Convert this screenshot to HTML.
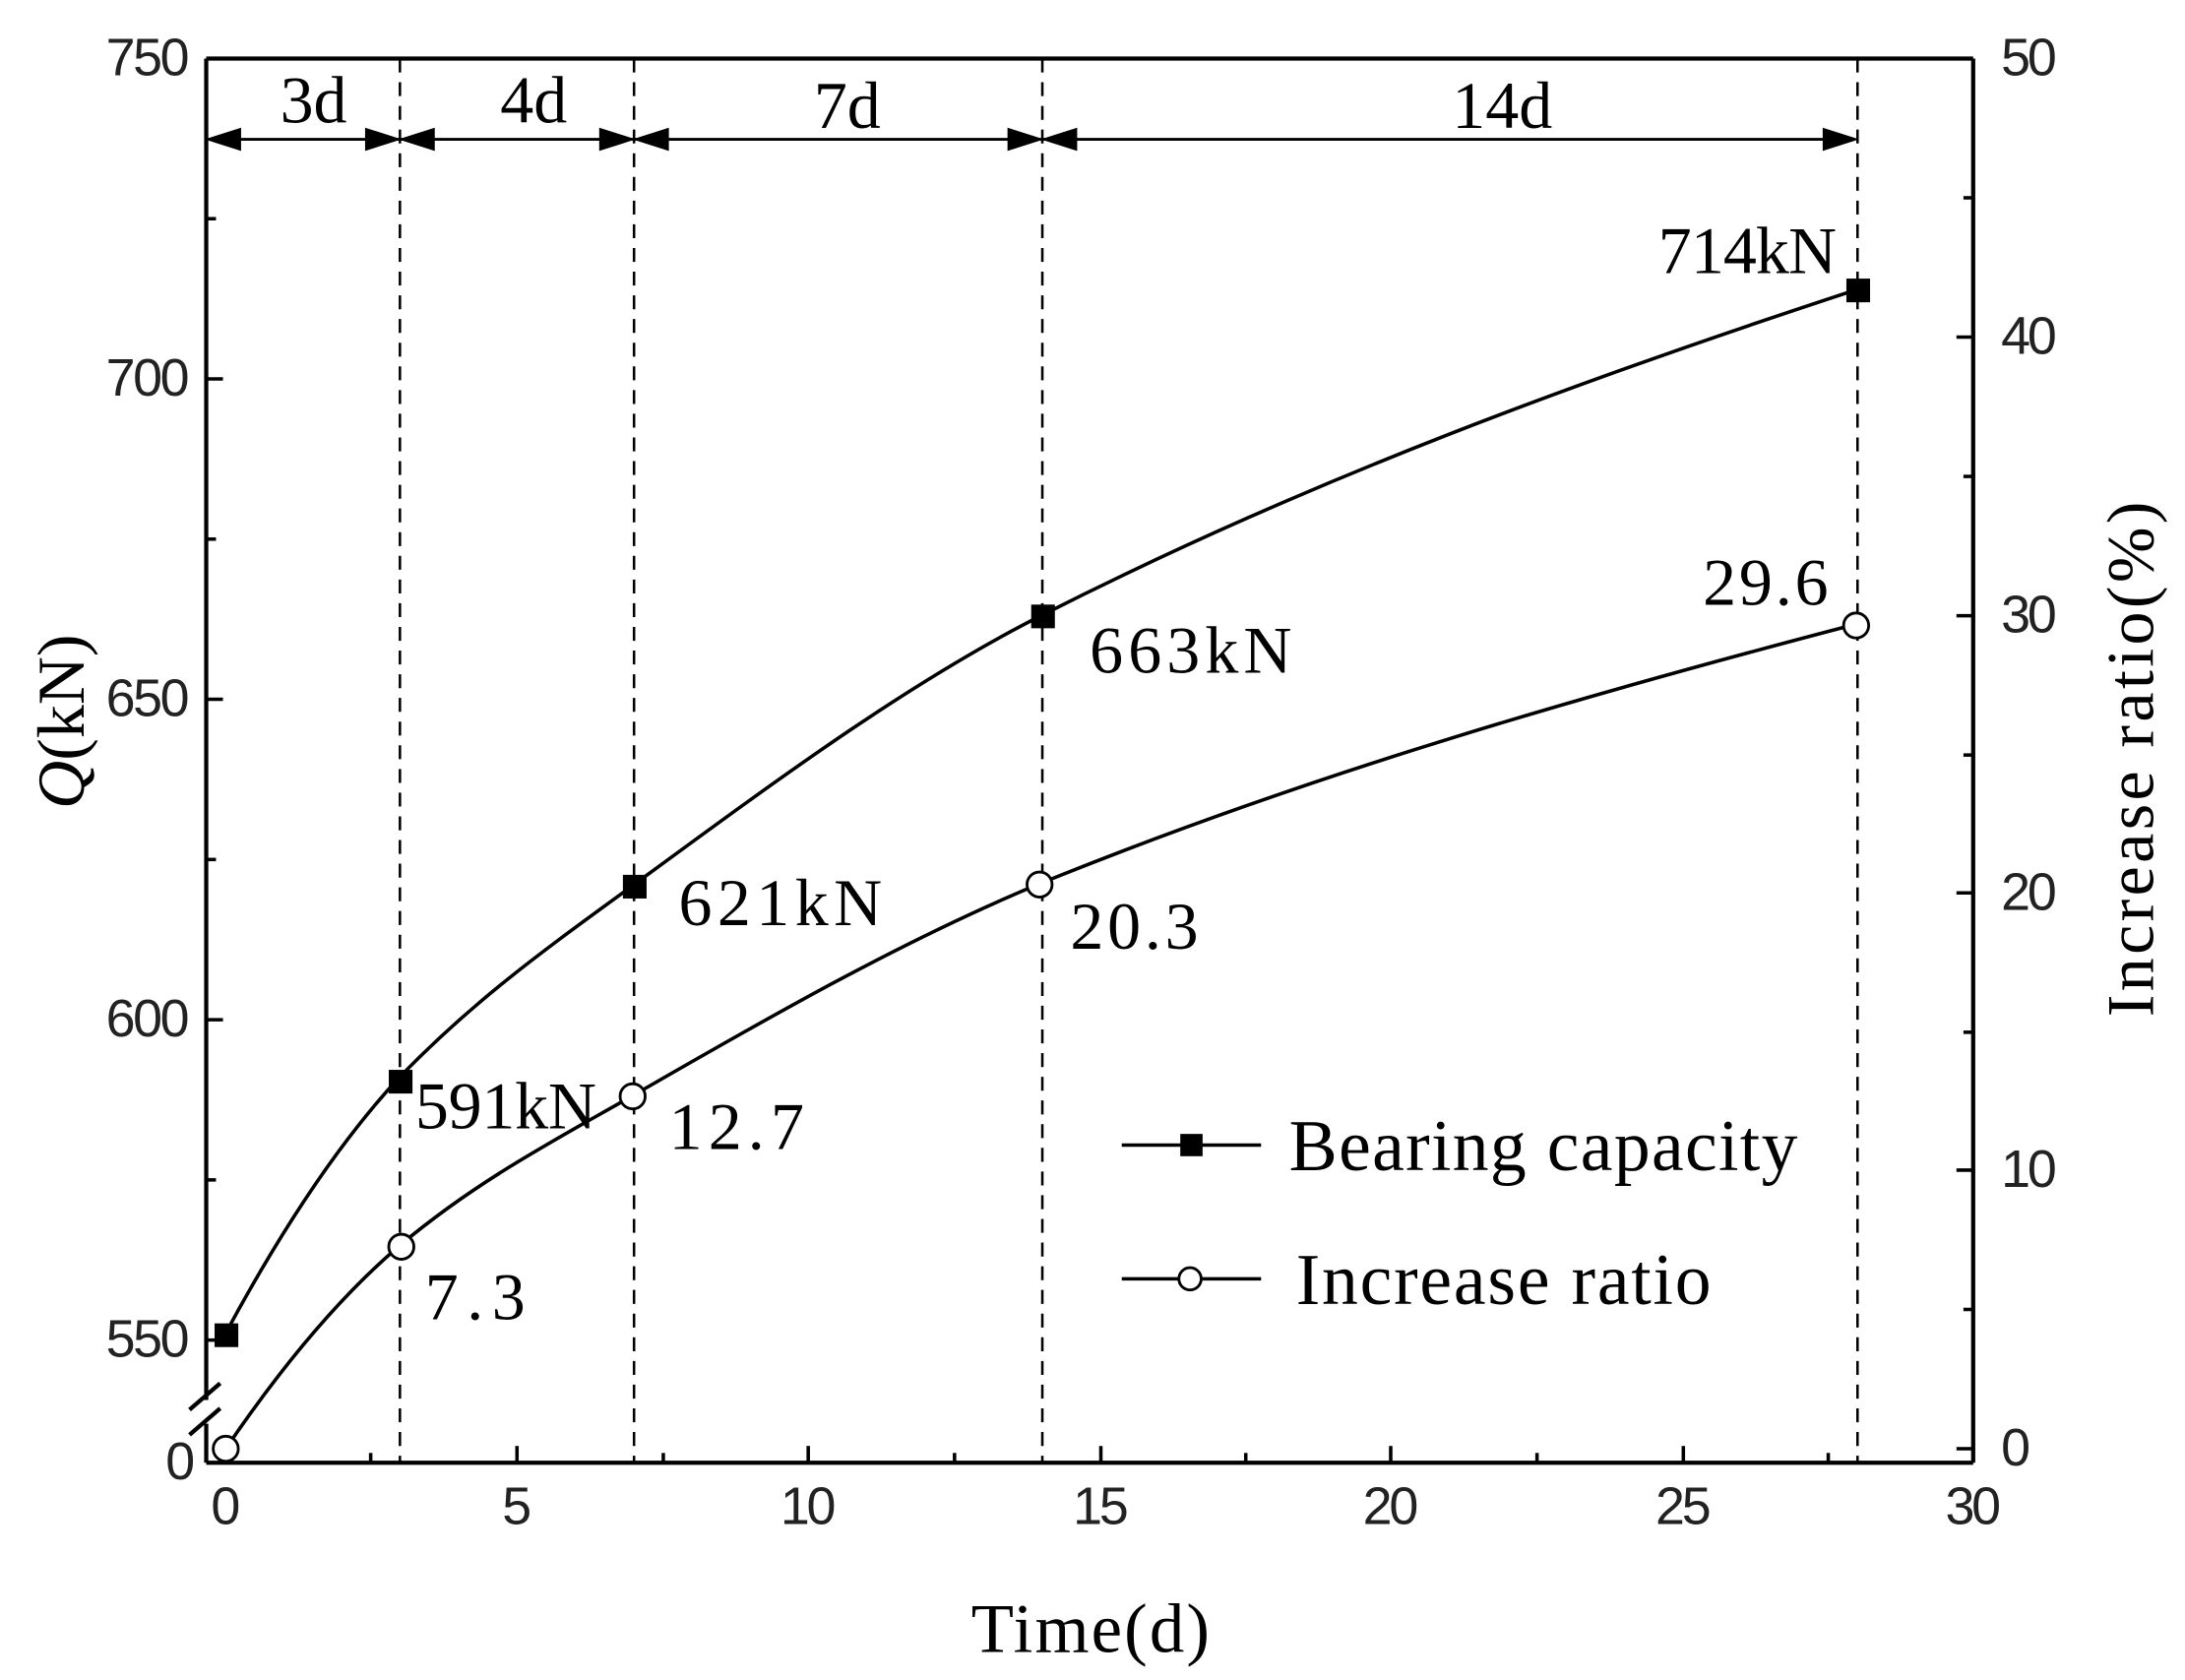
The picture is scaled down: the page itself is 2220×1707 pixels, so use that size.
<!DOCTYPE html>
<html><head><meta charset="utf-8"><style>html,body{margin:0;padding:0;background:#fff}svg{display:block}</style></head>
<body>
<svg width="2220" height="1707" viewBox="0 0 1568 1206" preserveAspectRatio="none" xmlns="http://www.w3.org/2000/svg">
<rect width="1568" height="1206" fill="#fff"/>
<g stroke="#000" stroke-width="3" fill="none">
<line x1="148" y1="42" x2="1416" y2="42"/>
<line x1="148" y1="1050" x2="1416" y2="1050"/>
<line x1="1416" y1="42" x2="1416" y2="1050"/>
<line x1="148" y1="42" x2="148" y2="1005"/>
<line x1="148" y1="1022" x2="148" y2="1050"/>
<line x1="136" y1="1012" x2="158" y2="993"/>
<line x1="136" y1="1030" x2="158" y2="1011"/>
</g>
<g stroke="#000" stroke-width="2.5">
<line x1="162" y1="1050" x2="162" y2="1038"/><line x1="371" y1="1050" x2="371" y2="1038"/><line x1="580" y1="1050" x2="580" y2="1038"/><line x1="790" y1="1050" x2="790" y2="1038"/><line x1="998" y1="1050" x2="998" y2="1038"/><line x1="1208" y1="1050" x2="1208" y2="1038"/>
<line x1="266" y1="1050" x2="266" y2="1043"/><line x1="476" y1="1050" x2="476" y2="1043"/><line x1="685" y1="1050" x2="685" y2="1043"/><line x1="894" y1="1050" x2="894" y2="1043"/><line x1="1103" y1="1050" x2="1103" y2="1043"/><line x1="1312" y1="1050" x2="1312" y2="1043"/>
<line x1="148" y1="272" x2="160" y2="272"/><line x1="148" y1="502" x2="160" y2="502"/><line x1="148" y1="732" x2="160" y2="732"/><line x1="148" y1="962" x2="160" y2="962"/>
<line x1="148" y1="157" x2="155" y2="157"/><line x1="148" y1="387" x2="155" y2="387"/><line x1="148" y1="617" x2="155" y2="617"/><line x1="148" y1="847" x2="155" y2="847"/>
<line x1="1416" y1="242" x2="1404" y2="242"/><line x1="1416" y1="442" x2="1404" y2="442"/><line x1="1416" y1="641" x2="1404" y2="641"/><line x1="1416" y1="840" x2="1404" y2="840"/><line x1="1416" y1="1040" x2="1404" y2="1040"/>
<line x1="1416" y1="142" x2="1409" y2="142"/><line x1="1416" y1="342" x2="1409" y2="342"/><line x1="1416" y1="542" x2="1409" y2="542"/><line x1="1416" y1="741" x2="1409" y2="741"/><line x1="1416" y1="940" x2="1409" y2="940"/>
</g>
<g stroke="#000" stroke-width="1.8" stroke-dasharray="10,7">
<line x1="287" y1="42" x2="287" y2="1050"/><line x1="455" y1="42" x2="455" y2="1050"/><line x1="748" y1="42" x2="748" y2="1050"/><line x1="1333" y1="42" x2="1333" y2="1050"/>
</g>
<g stroke="#000" stroke-width="2" fill="#000">
<line x1="150" y1="100" x2="1330" y2="100"/>
<path d="M150 100 l22 -7 v14z M285 100 l-22 -7 v14z M289 100 l22 -7 v14z M453 100 l-22 -7 v14z M457 100 l22 -7 v14z M746 100 l-22 -7 v14z M750 100 l22 -7 v14z M1331 100 l-22 -7 v14z"/>
</g>
<g font-family="Liberation Serif, serif" font-size="48" text-anchor="middle" fill="#000">
<text x="225" y="88">3d</text><text x="383" y="88">4d</text><text x="608" y="92">7d</text><text x="1078" y="92">14d</text>
</g>
<g stroke="#000" stroke-width="2.5" fill="none">
<path d="M162 957 C204 879 246 817 287 773 C343 715 399 676 455 635 C552 564 650 491 747 442 C942 343 1137 272 1332 208"/>
<path d="M162 1040 C204 978 246 929 287 894 C343 847 399 818 455 786 C552 730 650 674 747 634 C942 555 1137 499 1332 448"/>
</g>
<g fill="#000">
<rect x="154" y="950" width="17" height="17"/><rect x="279" y="768" width="17" height="17"/><rect x="447" y="628" width="17" height="17"/><rect x="740" y="434" width="17" height="17"/><rect x="1325" y="200" width="17" height="17"/>
</g>
<g fill="#fff" stroke="#000" stroke-width="2">
<circle cx="162" cy="1040" r="9"/><circle cx="288" cy="895" r="9"/><circle cx="454" cy="787" r="9"/><circle cx="746" cy="635" r="9"/><circle cx="1332" cy="449" r="9"/>
</g>
<g font-family="Liberation Serif, serif" font-size="48" fill="#000">
<text x="1190" y="196" textLength="128">714kN</text><text x="782" y="483" textLength="145">663kN</text><text x="487" y="664" textLength="146">621kN</text><text x="298" y="810" textLength="130">591kN</text>
<text x="1222" y="434" textLength="90">29.6</text><text x="768" y="681" textLength="92">20.3</text><text x="480" y="825" textLength="97">12.7</text><text x="305" y="947" textLength="72">7.3</text>
</g>
<g font-family="Liberation Sans, sans-serif" font-size="38" fill="#222">
<g text-anchor="middle">
<text x="162" y="1094">0</text><text x="371" y="1094">5</text><text x="580" y="1094" textLength="40">10</text><text x="790" y="1094" textLength="40">15</text><text x="998" y="1094" textLength="40">20</text><text x="1208" y="1094" textLength="40">25</text><text x="1416" y="1094" textLength="40">30</text>
</g>
<g text-anchor="end">
<text x="136" y="54" textLength="60">750</text><text x="136" y="284" textLength="60">700</text><text x="136" y="514" textLength="60">650</text><text x="136" y="744" textLength="60">600</text><text x="136" y="974" textLength="60">550</text><text x="140" y="1062">0</text>
</g>
<g>
<text x="1436" y="54" textLength="40">50</text><text x="1436" y="254" textLength="40">40</text><text x="1436" y="454" textLength="40">30</text><text x="1436" y="653" textLength="40">20</text><text x="1436" y="852" textLength="40">10</text><text x="1436" y="1052">0</text>
</g>
</g>
<text x="697" y="1186" font-family="Liberation Serif, serif" font-size="50" textLength="171">Time(d)</text>
<text transform="translate(60,518) rotate(-90)" font-family="Liberation Serif, serif" font-size="48" text-anchor="middle"><tspan font-style="italic">Q</tspan>(kN)</text>
<text transform="translate(1545,545) rotate(-90)" font-family="Liberation Serif, serif" font-size="48" text-anchor="middle" textLength="370">Increase ratio(%)</text>
<g stroke="#000" stroke-width="2.5"><line x1="805" y1="822" x2="905" y2="822"/><line x1="805" y1="918" x2="905" y2="918"/></g>
<rect x="847" y="814" width="16" height="16" fill="#000"/>
<circle cx="854" cy="918" r="8" fill="#fff" stroke="#000" stroke-width="2"/>
<g font-family="Liberation Serif, serif" font-size="52" fill="#000">
<text x="925" y="840" textLength="365">Bearing capacity</text><text x="930" y="936" textLength="298">Increase ratio</text>
</g>
</svg>
</body></html>
